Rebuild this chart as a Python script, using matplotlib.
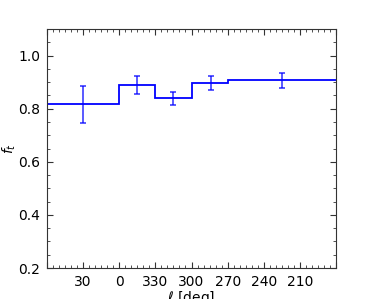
import numpy as np
import matplotlib
matplotlib.use("Agg")
import matplotlib.pyplot as plt
from matplotlib.ticker import MultipleLocator, FuncFormatter

# bin edges in galactic longitude (deg, wrapped so 0 -> negative is 360 -> lower)
bin_edges = [60, 0, -30, -60, -90, -180]
f_t = [0.816, 0.889, 0.839, 0.898, 0.908]

# error bar points
l_err = [30, -15, -45, -76, -135]
f_err = [0.816, 0.889, 0.839, 0.897, 0.907]
f_err_size = [0.070, 0.034, 0.025, 0.026, 0.028]

fig = plt.figure(figsize=(3.74, 2.99), dpi=100)
ax = fig.add_axes([47 / 374, 1 - 268 / 299, 289 / 374, 239 / 299])

ax.stairs(f_t[::-1], bin_edges[::-1], color="blue", lw=1.3, baseline=None)
ax.errorbar(l_err, f_err, yerr=f_err_size, fmt="none", ecolor="blue",
            alpha=0.7, capsize=2.5, elinewidth=1.3, capthick=1.3)

ax.set_xlim(60, -180)
ax.set_ylim(0.2, 1.1)
ax.xaxis.set_major_locator(MultipleLocator(30))
ax.xaxis.set_minor_locator(MultipleLocator(5))
ax.yaxis.set_major_locator(MultipleLocator(0.2))
ax.yaxis.set_minor_locator(MultipleLocator(0.05))
ax.xaxis.set_major_formatter(FuncFormatter(
    lambda v, p: "" if v >= 60 or v <= -180 else "%d" % (v % 360)))
ax.yaxis.set_major_formatter(FuncFormatter(lambda v, p: "%.1f" % v))

ax.tick_params(which="both", direction="in", top=True, right=True,
               labelsize=10, colors="#333333", labelcolor="black")
ax.tick_params(which="major", length=4, pad=5)
ax.tick_params(which="minor", length=2)
for s in ax.spines.values():
    s.set_color("#333333")

ax.set_xlabel(r"$\ell$ [deg]", fontsize=10, labelpad=0)
ax.set_ylabel(r"$f_t$", fontsize=10)
ax.yaxis.set_label_coords(-0.1, 0.5)

fig.savefig("out.png", dpi=100)
